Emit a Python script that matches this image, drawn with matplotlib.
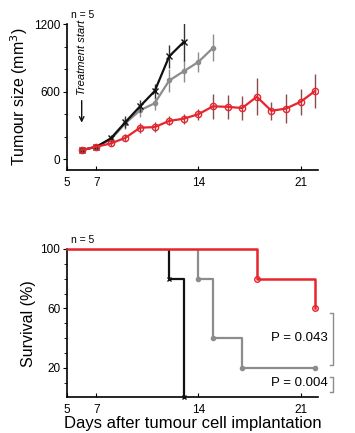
import matplotlib
matplotlib.use("Agg")
import matplotlib.pyplot as plt
import numpy as np

plt.rcParams['font.family'] = ['Liberation Sans', 'DejaVu Sans']

# tumour growth, mean +/- error
days_ctrl = [6, 7, 8, 9, 10, 11, 12, 13]
size_ctrl = [80, 110, 185, 330, 470, 605, 915, 1043]
err_ctrl = [15, 20, 30, 50, 55, 60, 100, 170]

days_mid = [6, 7, 8, 9, 10, 11, 12, 13, 14, 15]
size_mid = [80, 110, 175, 320, 435, 497, 700, 782, 865, 990]
err_mid = [15, 20, 30, 50, 60, 60, 100, 100, 90, 120]

days_trt = [6, 7, 8, 9, 10, 11, 12, 13, 14, 15, 16, 17, 18, 19, 20, 21, 22]
size_trt = [80, 110, 140, 190, 280, 285, 340, 360, 400, 470, 465, 455, 555, 430, 450, 510, 607]
err_trt = [15, 20, 25, 30, 45, 45, 40, 45, 50, 110, 105, 110, 165, 80, 130, 115, 150]

# survival (step curves)
surv_ctrl_t = [5, 12, 12, 13, 13]
surv_ctrl_v = [100, 100, 80, 80, 0]
surv_mid_t = [5, 14, 14, 15, 15, 17, 17, 22]
surv_mid_v = [100, 100, 80, 80, 40, 40, 20, 20]
surv_trt_t = [5, 18, 18, 22, 22]
surv_trt_v = [100, 100, 80, 80, 60]

# event markers
ev_ctrl_t = [12, 13]
ev_ctrl_v = [80, 0]
ev_mid_t = [14, 15, 17, 22]
ev_mid_v = [80, 40, 20, 20]
ev_trt_t = [18, 22]
ev_trt_v = [80, 60]

red = '#e8242c'
red_err = '#8c4a4a'
grey = '#8c8c8c'
black = '#111111'

fig = plt.figure(figsize=(3.55, 4.33), dpi=100)
ax1 = fig.add_axes([0.189, 0.607, 0.707, 0.337])
ax2 = fig.add_axes([0.189, 0.082, 0.707, 0.343])

# top panel
ax1.errorbar(days_ctrl, size_ctrl, yerr=err_ctrl, color=black, ecolor='#333333',
             elinewidth=1, lw=1.6, marker='x', ms=4, mew=1, capsize=0, zorder=3)
ax1.errorbar(days_mid, size_mid, yerr=err_mid, color=grey, ecolor=grey,
             elinewidth=1, lw=1.6, marker='o', ms=3, capsize=0, zorder=2)
ax1.errorbar(days_trt, size_trt, yerr=err_trt, color=red, ecolor=red_err,
             elinewidth=1, lw=1.6, marker='o', ms=4.5, mfc='none', mec=red,
             mew=1, capsize=0, zorder=4)

ax1.set_xlim(5, 22.2)
ax1.set_ylim(-98, 1200)
ax1.set_xticks([5, 7, 14, 21])
ax1.set_yticks([0, 600, 1200])
ax1.set_yticks([200, 400, 800, 1000], minor=True)
ax1.set_ylabel('Tumour size (mm$^3$)', fontsize=11.5, labelpad=3)
ax1.text(5.3, 1260, 'n = 5', fontsize=7.5)
ax1.annotate('Treatment start', xy=(6, 300), xytext=(6, 570), rotation=90,
             ha='center', va='bottom', fontsize=8, style='italic',
             arrowprops=dict(arrowstyle='->', color=black, lw=1))

# bottom panel
ax2.plot(surv_ctrl_t, surv_ctrl_v, color=black, lw=1.6, zorder=3)
ax2.plot(ev_ctrl_t, ev_ctrl_v, ls='none', marker='x', ms=3.5, mew=1, color=black,
         zorder=4, clip_on=False)
ax2.plot(surv_mid_t, surv_mid_v, color=grey, lw=1.6, zorder=2)
ax2.plot(ev_mid_t, ev_mid_v, ls='none', marker='o', ms=3, color=grey, zorder=2)
ax2.plot(surv_trt_t, surv_trt_v, color=red, lw=1.8, zorder=5, clip_on=False)
ax2.plot(ev_trt_t, ev_trt_v, ls='none', marker='o', ms=4, mfc='none', mec=red,
         mew=1, zorder=5, clip_on=False)

ax2.set_xlim(5, 22.2)
ax2.set_ylim(0, 100)
ax2.set_xticks([5, 7, 14, 21])
ax2.set_yticks([20, 60, 100])
ax2.set_yticks([10, 30, 40, 50, 70, 80, 90], minor=True)
ax2.set_ylabel('Survival (%)', fontsize=11.5, labelpad=3)
ax2.set_xlabel('Days after tumour cell implantation', fontsize=12, labelpad=0)
ax2.text(5.3, 104, 'n = 5', fontsize=7.5)

# p-value brackets
ax2.plot([23.0, 23.2, 23.2, 23.0], [57, 57, 22, 22], color=grey, lw=1,
         clip_on=False)
ax2.text(22.85, 40, 'P = 0.043', ha='right', va='center', fontsize=9.5)
ax2.plot([23.0, 23.2, 23.2, 23.0], [14, 14, 4, 4], color=grey, lw=1,
         clip_on=False)
ax2.text(22.85, 9.5, 'P = 0.004', ha='right', va='center', fontsize=9.5)

for ax in (ax1, ax2):
    ax.spines['top'].set_visible(False)
    ax.spines['right'].set_visible(False)
    ax.spines['left'].set_linewidth(1.2)
    ax.spines['bottom'].set_linewidth(1.2)
    ax.tick_params(axis='x', direction='in', length=3, labelsize=8.5, pad=5)
    ax.tick_params(axis='y', direction='out', length=3, labelsize=8.5, pad=2)
    ax.tick_params(axis='y', which='minor', direction='out', length=2)

fig.savefig('out.png', dpi=100)
